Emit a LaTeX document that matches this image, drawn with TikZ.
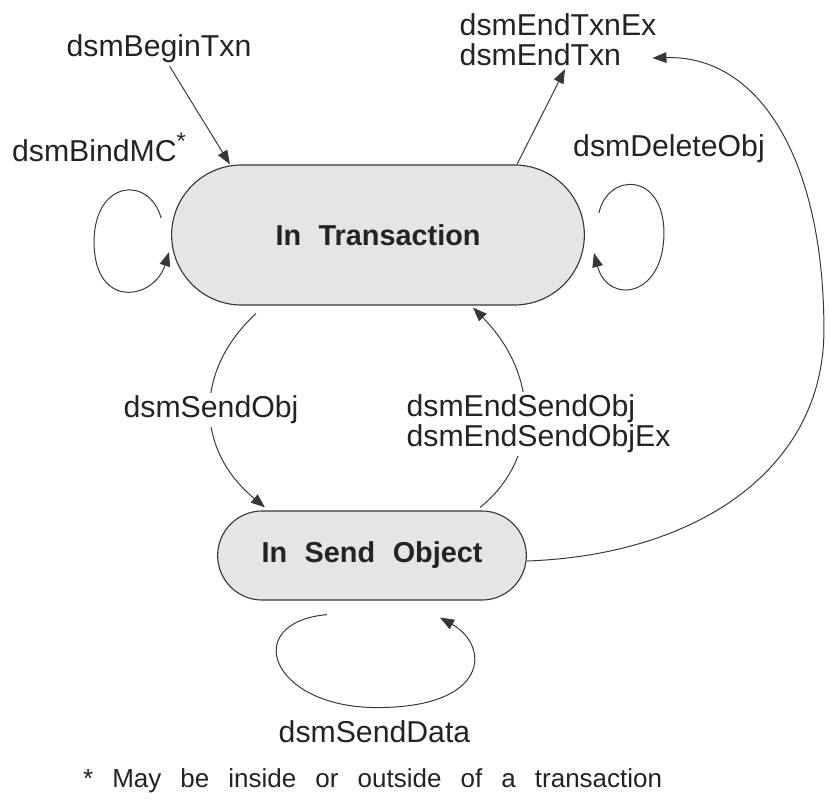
\documentclass[tikz,border=0pt]{standalone}
\usepackage{fontspec}
\setmainfont{Liberation Sans}
\usepackage{tikz}
\usetikzlibrary{positioning, arrows.meta, calc, shapes.misc}

\definecolor{statefill}{RGB}{229,229,230}
\definecolor{linegray}{RGB}{55,55,55}
\definecolor{textgray}{RGB}{35,35,35}

\begin{document}
\begin{tikzpicture}[
        x=0.025cm, y=-0.025cm,
        >={Triangle[length=10pt, width=7.5pt]},
        state/.style={draw=linegray, line width=0.8pt, rounded rectangle, fill=statefill, text=textgray, font=\fontsize{20.5}{24}\selectfont\bfseries},
        lbl/.style={text=textgray, inner sep=2pt, font=\fontsize{21.5}{21.3}\selectfont},
        trans/.style={draw=linegray, line width=0.7pt, ->}
        ]
        \useasboundingbox (0,0) rectangle (830,800);

        % States
        \node[state, minimum width=10.55cm, minimum height=3.5cm] (InTxn) at (378,235) {In\hspace{12.5pt}Transaction};
        \node[state, minimum width=7.95cm, minimum height=2.225cm] (InSend) at (372,555.5) {In\hspace{12.5pt}Send\hspace{12.5pt}Object};

        % Labels
        \node[lbl] (BeginTxn) at (159,49) {dsmBeginTxn};
        \node[lbl, align=left] (EndTxn) at (558,40) {dsmEndTxnEx\\dsmEndTxn};
        \node[lbl, anchor=base west] (BindMC) at (9,162) {dsmBindMC\raisebox{9pt}{\fontsize{17}{17}\selectfont *}};
        \node[lbl] (DeleteObj) at (669,149) {dsmDeleteObj};
        \node[lbl] (SendData) at (374.5,732) {dsmSendData};

        % Arrows
        % begin / end of a transaction
        \draw[trans] (BeginTxn) -- ($(InTxn.north)+(-148,0)$);
        \draw[trans] ($(InTxn.north)+(139,0)$) -- ($(EndTxn.south)+(7,0)$);

        % self loops on In Transaction
        \draw[trans] ($(InTxn.west)+(-10,-17)$) .. controls +(-12,-43) and +(0,-62) .. ($(InTxn.west)+(-77,7)$)
            .. controls +(0,68) and +(-15,48) .. ($(InTxn.west)+(-2,17)$);
        \draw[trans] ($(InTxn.east)+(14,-22)$) .. controls +(9,-41) and +(0,-61) .. ($(InTxn.east)+(79,-2)$)
            .. controls +(0,65) and +(14,52) .. ($(InTxn.east)+(9,18)$);

        % In Transaction <-> In Send Object
        \draw[trans] ($(InTxn.south)+(-122,8)$) .. controls +(-62,57) and +(-70,-58) .. ($(InSend.north)+(-107,-3)$)
            node[midway, lbl, fill=white] (SendObj) {dsmSendObj};
        \draw[trans] ($(InSend.north)+(108,-3)$) .. controls +(60,-48) and +(67,68) .. ($(InTxn.south)+(95,2)$);
        \node[lbl, align=left, fill=white] (EndSendObj) at (538.5,424) {dsmEndSendObj\\dsmEndSendObjEx};

        % self loop on In Send Object
        \draw[trans] ($(InSend.south)+(-45,14)$) .. controls +(-87,8) and +(-107,0) .. ($(InSend.south)+(5,107)$)
            .. controls +(113,0) and +(50,28) .. ($(InSend.south)+(68,17)$);

        % In Send Object -> end of transaction
        \draw[trans] ($(InSend.east)+(0,5.5)$) .. controls +(169,-6) and +(0,140) .. ($(InSend.east)+(297,-225.5)$)
            .. controls +(0,-170) and +(107,-3) .. ($(EndTxn.east)+(-7,18)$);

        % Footnote
        \node[lbl, anchor=base west, font=\fontsize{18.5}{22}\selectfont] (Note) at (80,787)
            {\makebox[14.475cm][s]{* May be inside or outside of a transaction}};

    \end{tikzpicture}
\end{document}
